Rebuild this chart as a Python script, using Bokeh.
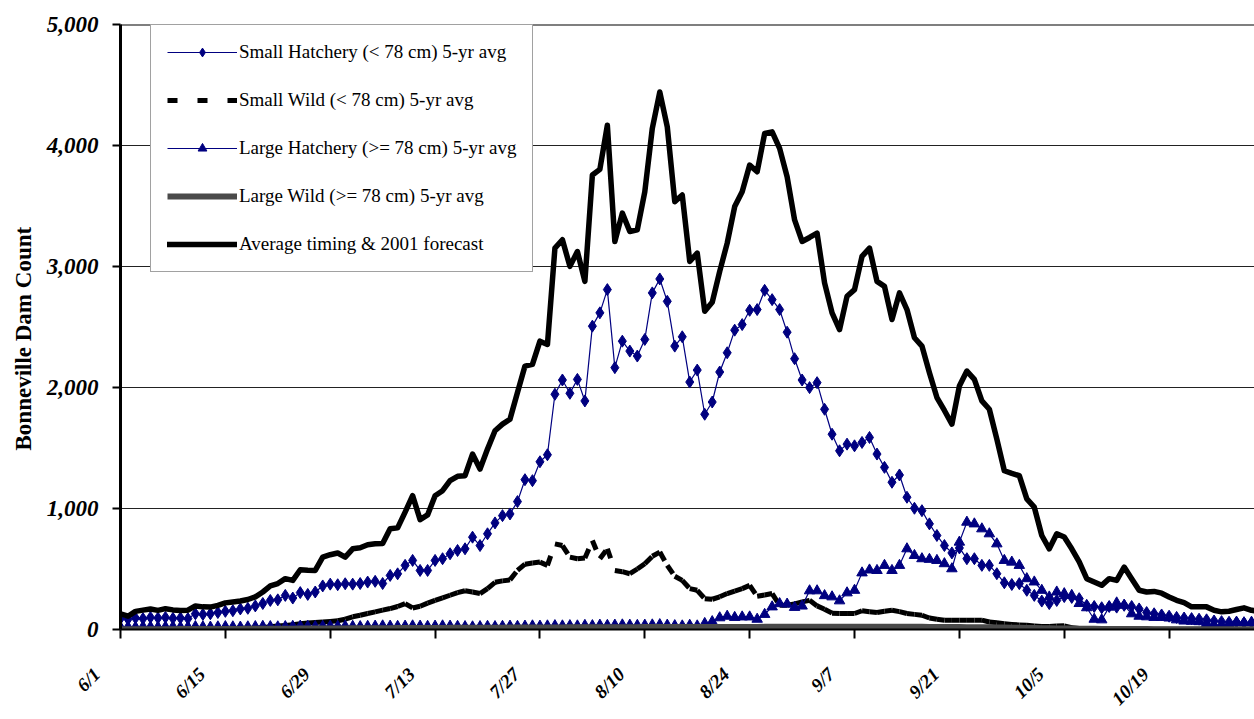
import pandas as pd
from math import pi
from bokeh.plotting import figure
from bokeh.models import (Range1d, FixedTicker, NumeralTickFormatter, Span, Legend,
                          LegendItem, ColumnDataSource, Title)
from bokeh.embed import file_html
from bokeh.resources import INLINE

# ---------------- data ----------------
dates = pd.date_range("2001-06-01", "2001-10-31", freq="D")
tick_labels = ["6/1", "6/15", "6/29", "7/13", "7/27", "8/10", "8/24",
               "9/7", "9/21", "10/5", "10/19"]
y_ticks = [0, 1000, 2000, 3000, 4000, 5000]

small_hatchery = [
    91, 85, 95, 90, 100, 95, 100, 92, 95, 90,
    130, 125, 130, 140, 150, 155, 170, 175, 195, 215,
    240, 245, 282, 260, 305, 290, 310, 360, 375, 370,
    378, 375, 380, 392, 398, 380, 447, 460, 530, 571,
    488, 488, 571, 585, 626, 653, 667, 763, 694, 791,
    881, 941, 955, 1057, 1238, 1230, 1386, 1444, 1944, 2062,
    1952, 2067, 1889, 2507, 2617, 2809, 2164, 2383, 2301, 2260,
    2397, 2782, 2897, 2712, 2342, 2419, 2045, 2144, 1779, 1880,
    2128, 2287, 2474, 2520, 2638, 2644, 2803, 2726, 2644, 2457,
    2238, 2062, 1999, 2040, 1820, 1614, 1477, 1532, 1518, 1546,
    1587, 1450, 1340, 1217, 1277, 1093, 1002, 982, 873, 777,
    694, 633, 674, 585, 585, 530, 530, 461, 386, 372,
    379, 324, 282, 235, 214, 240, 272, 265, 255, 200,
    190, 180, 190, 185, 200, 190, 170, 140, 130, 120,
    110, 100, 95, 90, 85, 80, 70, 65, 60, 60,
    55, 55, 50,
]

small_wild = [
    3, 3, 4, 4, 4, 5, 5, 5, 6, 6,
    6, 7, 7, 8, 8, 9, 10, 10, 11, 15,
    22, 28, 34, 40, 47, 53, 57, 62, 66, 72,
    85, 105, 118, 132, 146, 160, 173, 190, 214, 178,
    192, 218, 241, 262, 283, 305, 320, 310, 297, 338,
    390, 402, 410, 488, 540, 550, 557, 530, 708, 694,
    598, 585, 590, 735, 585, 667, 488, 478, 461, 500,
    544, 605, 640, 530, 440, 406, 338, 324, 255, 250,
    270, 297, 318, 338, 365, 275, 285, 297, 200, 200,
    212, 228, 241, 195, 168, 135, 132, 132, 132, 155,
    146, 140, 151, 159, 148, 132, 125, 118, 95, 85,
    77, 77, 77, 77, 77, 77, 62, 55, 48, 41,
    38, 35, 30, 25, 24, 28, 30, 15, 8, 5,
    5, 4, 4, 4, 3, 3, 3, 3, 2, 2,
    2, 2, 2, 2, 2, 2, 2, 1, 1, 1,
    1, 1, 1,
]

large_hatchery = [
    20, 22, 20, 24, 22, 20, 22, 24, 20, 22,
    24, 22, 20, 22, 24, 22, 20, 22, 24, 26,
    24, 22, 24, 26, 28, 26, 24, 26, 28, 26,
    28, 26, 24, 26, 28, 30, 28, 26, 28, 30,
    28, 26, 28, 30, 28, 26, 24, 22, 24, 26,
    24, 26, 28, 26, 28, 30, 28, 30, 32, 30,
    32, 30, 34, 32, 36, 34, 36, 38, 36, 34,
    36, 38, 40, 36, 32, 30, 35, 30, 50, 65,
    97, 110, 100, 104, 104, 85, 125, 187, 214, 210,
    183, 194, 320, 320, 280, 270, 237, 303, 324, 468,
    492, 488, 530, 488, 530, 667, 612, 585, 580, 571,
    544, 502, 722, 887, 873, 832, 791, 708, 571, 557,
    530, 420, 393, 324, 269, 310, 296, 282, 215, 180,
    85, 80, 185, 220, 200, 130, 110, 105, 100, 100,
    95, 80, 70, 68, 65, 50, 38, 35, 45, 60,
    55, 60, 55,
]

large_wild = [
    2, 2, 2, 3, 3, 3, 3, 3, 4, 4,
    4, 4, 4, 5, 5, 5, 5, 6, 6, 6,
    6, 7, 7, 7, 8, 8, 8, 8, 9, 9,
    9, 10, 10, 10, 11, 11, 11, 12, 12, 12,
    12, 13, 13, 13, 14, 14, 14, 14, 15, 15,
    15, 15, 16, 16, 16, 16, 17, 17, 17, 17,
    18, 18, 18, 18, 18, 19, 19, 19, 19, 19,
    20, 20, 20, 20, 20, 20, 20, 20, 20, 20,
    20, 21, 21, 21, 21, 21, 22, 22, 22, 22,
    22, 22, 22, 22, 22, 23, 23, 23, 23, 23,
    23, 23, 23, 23, 22, 22, 22, 22, 21, 21,
    21, 20, 20, 19, 19, 18, 18, 17, 16, 15,
    14, 13, 12, 11, 10, 9, 9, 8, 7, 6,
    6, 5, 5, 5, 4, 4, 4, 4, 3, 3,
    3, 3, 3, 3, 3, 2, 2, 2, 2, 2,
    2, 2, 2,
]

average_forecast = [
    130, 110, 150, 160, 170, 158, 172, 162, 158, 160,
    195, 187, 185, 200, 220, 228, 235, 248, 270, 310,
    360, 380, 420, 406, 494, 490, 488, 598, 618, 632,
    598, 667, 675, 700, 708, 710, 832, 840, 970, 1106,
    908, 947, 1106, 1147, 1230, 1266, 1271, 1450, 1326, 1491,
    1642, 1697, 1738, 1958, 2177, 2191, 2383, 2356, 3152, 3221,
    3001, 3124, 2877, 3756, 3803, 4168, 3207, 3441, 3289, 3303,
    3618, 4141, 4442, 4154, 3536, 3591, 3042, 3111, 2630, 2704,
    2960, 3193, 3495, 3618, 3838, 3783, 4099, 4113, 3976, 3742,
    3385, 3207, 3240, 3276, 2864, 2617, 2479, 2754, 2809, 3083,
    3152, 2877, 2836, 2562, 2782, 2644, 2411, 2342, 2122, 1917,
    1810, 1697, 2012, 2136, 2067, 1889, 1820, 1573, 1312, 1290,
    1271, 1079, 1011, 777, 667, 791, 764, 667, 558, 420,
    393, 365, 420, 406, 516, 420, 324, 310, 315, 300,
    269, 241, 222, 187, 187, 187, 159, 146, 151, 165,
    179, 159, 150,
]

series_labels = [
    "Small Hatchery (< 78 cm) 5-yr avg",
    "Small Wild (< 78 cm) 5-yr avg",
    "Large Hatchery (>= 78 cm) 5-yr avg",
    "Large Wild (>= 78 cm) 5-yr avg",
    "Average timing & 2001 forecast",
]
y_title = "Bonneville Dam Count"

# ---------------- derived ----------------
days = [(d - dates[0]).days for d in dates]
tick_days = [(pd.Timestamp(f"2001-{l.split('/')[0]}-{l.split('/')[1]}") - dates[0]).days
             for l in tick_labels]

NAVY = "#000080"
FONT = "Liberation Serif"
PAD = "\u00a0" * 7   # pushes the rotated date labels down/left of their ticks

W, H = 1254, 719
LEFT, TOP, BOTTOM = 120, 24, 88
X_END = 151.4

p = figure(width=W, height=H, output_backend="svg", toolbar_location=None,
           x_range=Range1d(0, X_END), y_range=Range1d(0, 5000),
           min_border_left=LEFT, min_border_right=0, min_border_top=TOP,
           min_border_bottom=BOTTOM)
p.outline_line_color = None
p.background_fill_color = "white"
p.border_fill_color = "white"

# x axis
xa = p.xaxis[0]
xa.ticker = FixedTicker(ticks=tick_days)
xa.major_label_overrides = {d: l + PAD for d, l in zip(tick_days, tick_labels)}
xa.major_label_orientation = pi / 4
xa.major_label_standoff = 9
xa.major_label_text_font = FONT
xa.major_label_text_font_style = "bold italic"
xa.major_label_text_font_size = "19px"
xa.major_label_text_color = "black"
xa.axis_line_width = 2
xa.axis_line_color = "black"
xa.major_tick_line_width = 2
xa.major_tick_out = 9
xa.major_tick_in = 0
xa.minor_tick_line_color = None

# y axis
ya = p.yaxis[0]
ya.ticker = FixedTicker(ticks=y_ticks)
ya.formatter = NumeralTickFormatter(format="0,0")
ya.axis_line_width = 3
ya.axis_line_color = "black"
ya.major_tick_line_width = 2
ya.major_tick_out = 8
ya.major_tick_in = 0
ya.minor_tick_line_color = None
ya.major_label_text_font = FONT
ya.major_label_text_font_style = "bold italic"
ya.major_label_text_font_size = "23px"
ya.major_label_text_color = "black"
ya.major_label_standoff = 14

p.add_layout(Title(text=y_title, align="left", offset=179, standoff=16,
                   text_font=FONT, text_font_style="bold", text_font_size="23px",
                   text_color="black"), "left")

p.xgrid.grid_line_color = None
p.ygrid.ticker = FixedTicker(ticks=y_ticks[1:-1])
p.ygrid.grid_line_color = "#222222"
p.ygrid.grid_line_width = 1
p.add_layout(Span(location=y_ticks[-1], dimension="width", line_color="black",
                  line_width=2))

# ---------------- series ----------------
sh_line = p.line(days, small_hatchery, line_color=NAVY, line_width=1.2)
sh_pts = p.scatter(days, small_hatchery, marker="diamond", size=12,
                   fill_color=NAVY, line_color=NAVY, line_width=1)

sw_src = ColumnDataSource(dict(x0=days[:-1], x1=days[1:],
                               y0=small_wild[:-1], y1=small_wild[1:]))
sw_seg = p.segment(x0="x0", y0="y0", x1="x1", y1="y1", source=sw_src,
                   line_color="black", line_width=5, line_dash="10 20",
                   line_cap="butt")

lh_line = p.line(days, large_hatchery, line_color=NAVY, line_width=1.2)
lh_pts = p.scatter(days, large_hatchery, marker="triangle", size=10.5,
                   fill_color=NAVY, line_color=NAVY, line_width=1)

lw_line = p.line(days, large_wild, line_color="#4a4a4a", line_width=6)

avg_line = p.line(days, average_forecast, line_color="black", line_width=5.5,
                  line_join="round", line_cap="round")

legend = Legend(items=[
    LegendItem(label=series_labels[0], renderers=[sh_line, sh_pts]),
    LegendItem(label=series_labels[1], renderers=[sw_seg]),
    LegendItem(label=series_labels[2], renderers=[lh_line, lh_pts]),
    LegendItem(label=series_labels[3], renderers=[lw_line]),
    LegendItem(label=series_labels[4], renderers=[avg_line]),
], location=(30, 357))
legend.label_text_font = FONT
legend.label_text_font_size = "19px"
legend.label_text_color = "black"
legend.glyph_width = 70
legend.glyph_height = 22
legend.label_height = 22
legend.label_standoff = 2
legend.spacing = 26
legend.padding = 16
legend.margin = 0
legend.border_line_color = "#444444"
legend.border_line_width = 1
legend.background_fill_color = "white"
legend.background_fill_alpha = 1
p.add_layout(legend, "center")

open("out.html", "w").write(file_html(p, INLINE))
